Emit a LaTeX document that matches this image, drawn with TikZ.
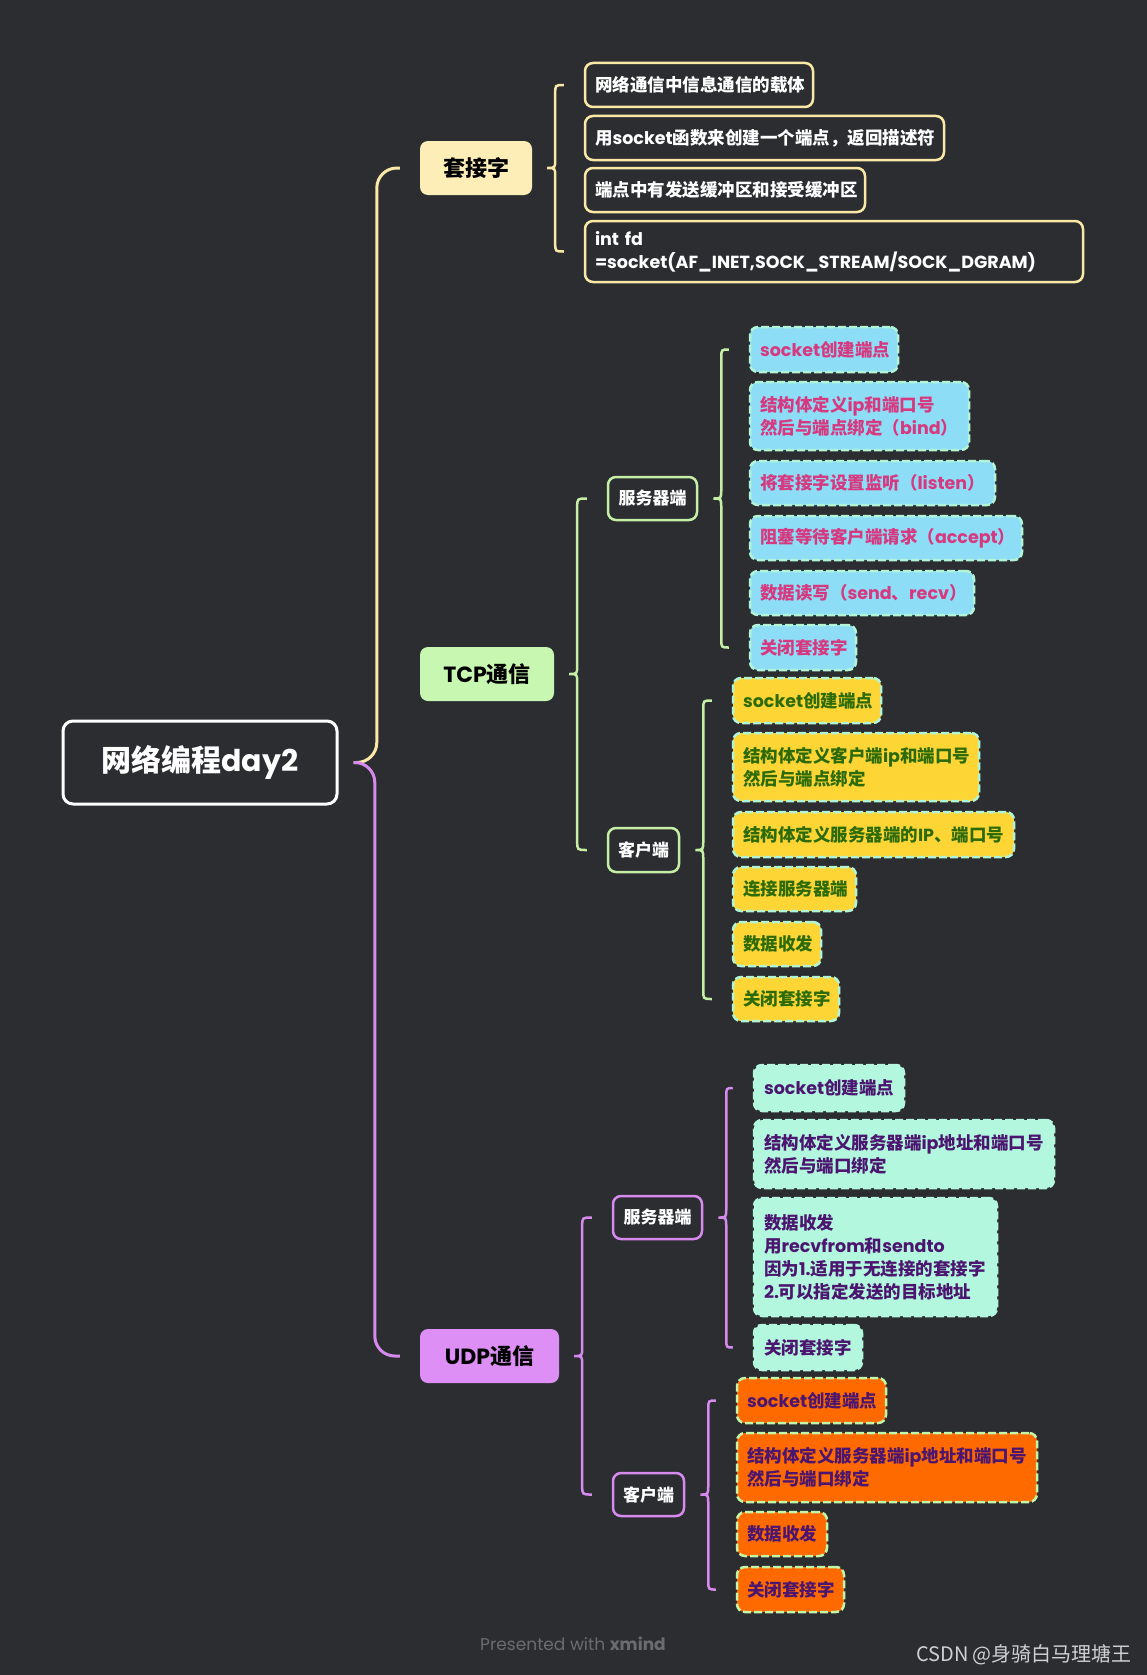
\documentclass[tikz,border=0pt]{standalone}
\usepackage{fontspec}
\setmainfont{Noto Sans CJK SC}
\newfontfamily\lat{Poppins}
\usetikzlibrary{calc}
\definecolor{bg}{HTML}{2B2D31}
\definecolor{lnY}{HTML}{FBE8A6}
\definecolor{fillY}{HTML}{FDEEB8}
\definecolor{lnG}{HTML}{C5EFA4}
\definecolor{fillG}{HTML}{C8F7B1}
\definecolor{lnP}{HTML}{D68AEE}
\definecolor{fillP}{HTML}{DD8FF5}
\definecolor{cyanF}{HTML}{8EDDF6}
\definecolor{pinkT}{HTML}{D6397F}
\definecolor{yelF}{HTML}{FDD636}
\definecolor{grnT}{HTML}{2C6B08}
\definecolor{mintF}{HTML}{B3F8DE}
\definecolor{mintB}{HTML}{B2F5D6}
\definecolor{purT}{HTML}{4B1570}
\definecolor{oraF}{HTML}{FF6A00}
\definecolor{lgB}{HTML}{C2F7AA}
\newcommand\la[1]{{\lat #1}}
\newcommand\bx[7][]{%
  \pgfmathsetmacro\bxw{#5-#3}\pgfmathsetmacro\bxh{#6-#4}%
  \pgfmathsetmacro\bxt{#5-#3-20}%
  \pgfmathsetmacro\bxcx{(#5+#3)/2}\pgfmathsetmacro\bxcy{(#6+#4)/2}%
  \node[leafbase,#1,minimum width=\bxw pt,minimum height=\bxh pt,text width=\bxt pt] (#2) at (\bxcx,\bxcy) {#7};}
\newcommand\hb[7][]{%
  \pgfmathsetmacro\bxw{#5-#3}\pgfmathsetmacro\bxh{#6-#4}%
  \pgfmathsetmacro\bxcx{(#5+#3)/2}\pgfmathsetmacro\bxcy{(#6+#4)/2}%
  \node[#1,minimum width=\bxw pt,minimum height=\bxh pt,inner sep=0pt] (#2) at (\bxcx,\bxcy) {#7};}
\newcommand\brc[4]{%
  \draw[#1] let \p1=([xshift=15pt]#2.east), \p2=([xshift=-20pt]#3.west), \p3=([xshift=-20pt]#4.west) in
   (\x2,\y2) .. controls (\x1+8pt,\y2) .. (\x1+8pt,\y2-9pt) -- (\x1+8pt,\y1+9pt)
   .. controls (\x1+8pt,\y1) .. (\x1,\y1) .. controls (\x1+8pt,\y1) .. (\x1+8pt,\y1-9pt)
   -- (\x1+8pt,\y3+9pt) .. controls (\x1+8pt,\y3) .. (\x3,\y3);}
\tikzset{
  leafbase/.style={rounded corners=8pt,inner xsep=10pt,inner ysep=0pt,align=left,
     font=\fontsize{17.5}{23}\selectfont\bfseries},
  skleaf/.style={draw=lnY,line width=2.5pt,fill=bg,text=white},
  tsleaf/.style={draw=mintB,line width=2.5pt,dash pattern=on 8pt off 3pt,fill=cyanF,text=pinkT},
  tcleaf/.style={draw=mintB,line width=2.5pt,dash pattern=on 8pt off 3pt,fill=yelF,text=grnT},
  usleaf/.style={draw=mintF,line width=2.5pt,dash pattern=on 8pt off 3pt,fill=mintF,text=purT},
  ucleaf/.style={draw=lgB,line width=2.5pt,dash pattern=on 8pt off 3pt,fill=oraF,text=purT},
  lvone/.style={rounded corners=8pt,text=black,font=\fontsize{22}{26}\selectfont\bfseries},
  lvtwo/.style={rounded corners=8pt,line width=2.5pt,fill=bg,text=white,font=\fontsize{17}{20}\selectfont\bfseries},
  rootbox/.style={rounded corners=10pt,draw=white,line width=3pt,fill=bg,text=white,font=\fontsize{30}{36}\selectfont\bfseries},
  mainln/.style={line width=3pt,rounded corners=20pt},
  brln/.style={line width=2.5pt},
}
\begin{document}
\begin{tikzpicture}[x=1pt,y=-1pt]
\useasboundingbox (0,0) rectangle (1147,1675);
\fill[bg] (0,0) rectangle (1147,1675);
% root
\hb[rootbox]{root}{63}{721}{337}{804}{网络编程\la{day2}}
% level one
\hb[lvone,fill=fillY]{skt}{420}{141}{532}{195}{套接字}
\hb[lvone,fill=fillG]{tcp}{420}{647}{554}{701}{\la{TCP}通信}
\hb[lvone,fill=fillP]{udp}{420}{1329}{559}{1383}{\la{UDP}通信}
% level two
\hb[lvtwo,draw=lnG]{ts}{608}{477}{697}{520}{服务器端}
\hb[lvtwo,draw=lnG]{tc}{608}{828}{679}{872}{客户端}
\hb[lvtwo,draw=lnP]{us}{613}{1196}{702}{1239}{服务器端}
\hb[lvtwo,draw=lnP]{uc}{613}{1473}{684}{1516}{客户端}
% socket leaves
\bx[skleaf]{sk1}{585}{63}{813}{107}{网络通信中信息通信的载体}
\bx[skleaf]{sk2}{585}{116}{944}{160}{用\la{socket}函数来创建一个端点，返回描述符}
\bx[skleaf]{sk3}{585}{168}{865}{212}{端点中有发送缓冲区和接受缓冲区}
\bx[skleaf]{sk4}{585}{221}{1083}{282}{\la{int fd}\\\la{=socket(AF\_INET,SOCK\_STREAM/SOCK\_DGRAM)}}
% tcp server leaves
\bx[tsleaf]{ts1}{750}{327}{898}{372}{\la{socket}创建端点}
\bx[tsleaf]{ts2}{750}{382}{969}{450}{结构体定义\la{ip}和端口号\\然后与端点绑定（\la{bind}）}
\bx[tsleaf]{ts3}{750}{461}{995}{505}{将套接字设置监听（\la{listen}）}
\bx[tsleaf]{ts4}{750}{516}{1022}{560}{阻塞等待客户端请求（\la{accept}）}
\bx[tsleaf]{ts5}{750}{571}{974}{615}{数据读写（\la{send}、\la{recv}）}
\bx[tsleaf]{ts6}{750}{625}{856}{670}{关闭套接字}
% tcp client leaves
\bx[tcleaf]{tc1}{733}{678}{881}{723}{\la{socket}创建端点}
\bx[tcleaf]{tc2}{733}{733}{979}{801}{结构体定义客户端\la{ip}和端口号\\然后与端点绑定}
\bx[tcleaf]{tc3}{733}{812}{1014}{857}{结构体定义服务器端的\la{IP}、端口号}
\bx[tcleaf]{tc4}{733}{867}{856}{911}{连接服务器端}
\bx[tcleaf]{tc5}{733}{922}{821}{966}{数据收发}
\bx[tcleaf]{tc6}{733}{977}{839}{1021}{关闭套接字}
% udp server leaves
\bx[usleaf]{us1}{754}{1065}{904}{1111}{\la{socket}创建端点}
\bx[usleaf]{us2}{754}{1120}{1054}{1188}{结构体定义服务器端\la{ip}地址和端口号\\然后与端口绑定}
\bx[usleaf]{us3}{754}{1198}{997}{1316}{数据收发\\用\la{recvfrom}和\la{sendto}\\因为\la{1.}适用于无连接的套接字\\\la{2.}可以指定发送的目标地址}
\bx[usleaf]{us4}{754}{1325}{862}{1370}{关闭套接字}
% udp client leaves
\bx[ucleaf]{uc1}{737}{1378}{886}{1423}{\la{socket}创建端点}
\bx[ucleaf]{uc2}{737}{1433}{1037}{1502}{结构体定义服务器端\la{ip}地址和端口号\\然后与端口绑定}
\bx[ucleaf]{uc3}{737}{1512}{827}{1556}{数据收发}
\bx[ucleaf]{uc4}{737}{1567}{844}{1612}{关闭套接字}
% main connectors
\draw[mainln,lnY] ([xshift=15pt]root.east) -| ([xshift=-43pt]skt.west) -- ([xshift=-20pt]skt.west);
\draw[mainln,lnP] ([xshift=15pt]root.east) -| ([xshift=-45pt]udp.west) -- ([xshift=-20pt]udp.west);
% braces
\brc{brln,lnY}{skt}{sk1}{sk4}
\brc{brln,lnG}{tcp}{ts}{tc}
\brc{brln,lnG}{ts}{ts1}{ts6}
\brc{brln,lnG}{tc}{tc1}{tc6}
\brc{brln,lnP}{udp}{us}{uc}
\brc{brln,lnP}{us}{us1}{us4}
\brc{brln,lnP}{uc}{uc1}{uc4}
% watermarks
\node[text=white!30!bg,font=\fontsize{17}{20}\selectfont\lat] (wm1) at (573,1644) {Presented with \textbf{xmind}};
\node[text=white!78!bg,font=\fontsize{20}{24}\selectfont] (wm2) at (1024,1655) {CSDN @身骑白马理塘王};
\end{tikzpicture}
\end{document}
